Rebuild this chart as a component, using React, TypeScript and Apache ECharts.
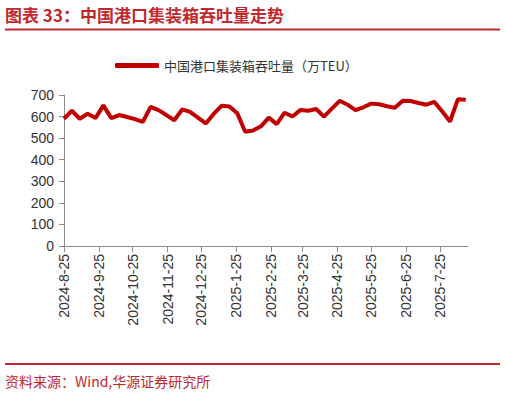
import React, { useEffect, useRef } from "react";
import * as echarts from "echarts";

const TITLE = "图表 33：中国港口集装箱吞吐量走势";
const SOURCE = "资料来源：Wind,华源证券研究所";
const SERIES_NAME = "中国港口集装箱吞吐量（万TEU）";

const weekDates = [
  "2024-8-25", "2024-9-1", "2024-9-8", "2024-9-15", "2024-9-22", "2024-9-29",
  "2024-10-6", "2024-10-13", "2024-10-20", "2024-10-27", "2024-11-3", "2024-11-10",
  "2024-11-17", "2024-11-24", "2024-12-1", "2024-12-8", "2024-12-15", "2024-12-22",
  "2024-12-29", "2025-1-5", "2025-1-12", "2025-1-19", "2025-1-26", "2025-2-2",
  "2025-2-9", "2025-2-16", "2025-2-23", "2025-3-2", "2025-3-9", "2025-3-16",
  "2025-3-23", "2025-3-30", "2025-4-6", "2025-4-13", "2025-4-20", "2025-4-27",
  "2025-5-4", "2025-5-11", "2025-5-18", "2025-5-25", "2025-6-1", "2025-6-8",
  "2025-6-15", "2025-6-22", "2025-6-29", "2025-7-6", "2025-7-13", "2025-7-20",
  "2025-7-27", "2025-8-3", "2025-8-10", "2025-8-17",
];

const throughput = [
  590, 627, 590, 613, 593, 652, 593, 607, 598, 588, 575, 645,
  630, 607, 583, 633, 622, 595, 568, 612, 650, 647, 615, 530,
  535, 555, 595, 565, 618, 600, 630, 627, 635, 600, 637, 673,
  655, 630, 643, 660, 657, 648, 641, 673, 672, 663, 655, 668,
  625, 577, 680, 678,
];

const tickLabels = [
  "2024-8-25", "2024-9-25", "2024-10-25", "2024-11-25", "2024-12-25", "2025-1-25",
  "2025-2-25", "2025-3-25", "2025-4-25", "2025-5-25", "2025-6-25", "2025-7-25",
];

const axisStart = "2024-8-25";
const axisEnd = "2025-8-19";

function buildDays(start: string, end: string): string[] {
  const parse = (s: string) => {
    const [y, m, d] = s.split("-").map(Number);
    return Date.UTC(y, m - 1, d);
  };
  const out: string[] = [];
  const e = parse(end);
  for (let t = parse(start); t <= e; t += 86400000) {
    const dt = new Date(t);
    out.push(`${dt.getUTCFullYear()}-${dt.getUTCMonth() + 1}-${dt.getUTCDate()}`);
  }
  return out;
}

const RED = "#c00000";
const TITLE_RED = "#c0282d";
const FONT = "'Liberation Sans', Arial, 'Noto Sans CJK SC', sans-serif";
const CJK = "'Noto Sans CJK SC', 'Liberation Sans', sans-serif";

export default function App() {
  const ref = useRef<HTMLDivElement>(null);
  useEffect(() => {
    document.body.style.margin = "0";
    if (!ref.current) return;
    const chart = echarts.init(ref.current, undefined, { renderer: "svg" });
    const days = buildDays(axisStart, axisEnd);
    const tickSet = new Set(tickLabels);
    const isTick = (_i: number, v: string) => tickSet.has(v);
    chart.setOption({
      animation: false,
      backgroundColor: "#ffffff",
      grid: { left: 64, right: 38, top: 95, bottom: 151, outerBoundsMode: "none" },
      legend: {
        data: [SERIES_NAME],
        left: 110,
        top: 54,
        icon: "roundRect",
        itemWidth: 44,
        itemHeight: 5,
        itemGap: 8,
        textStyle: { fontSize: 13, color: "#333", fontFamily: CJK },
      },
      xAxis: {
        type: "category",
        data: days,
        boundaryGap: false,
        axisLine: { lineStyle: { color: "#8c8c8c", width: 1 } },
        axisTick: { interval: isTick, length: 6, lineStyle: { color: "#8c8c8c" } },
        axisLabel: {
          interval: isTick,
          rotate: 90,
          margin: 8,
          fontSize: 14,
          color: "#333",
          fontFamily: FONT,
        },
        splitLine: { show: false },
      },
      yAxis: {
        type: "value",
        min: 0,
        max: 700,
        interval: 100,
        axisLine: { show: true, lineStyle: { color: "#8c8c8c", width: 1 } },
        axisTick: { show: true, length: 5, lineStyle: { color: "#8c8c8c" } },
        axisLabel: { fontSize: 14, color: "#333", margin: 10, fontFamily: FONT },
        splitLine: { show: false },
      },
      series: [
        {
          name: SERIES_NAME,
          type: "line",
          data: weekDates.map((d, i) => [d, throughput[i]]),
          symbol: "none",
          lineStyle: { color: RED, width: 4 },
          itemStyle: { color: RED },
        },
      ],
      graphic: [
        {
          type: "text",
          left: 5,
          top: 6,
          style: {
            text: TITLE,
            fontSize: 17,
            fontWeight: "bold",
            fill: TITLE_RED,
            fontFamily: CJK,
          },
        },
        {
          type: "rect",
          shape: { x: 5, y: 28.5, width: 495, height: 2 },
          style: { fill: TITLE_RED },
        },
        {
          type: "rect",
          shape: { x: 5, y: 363, width: 495, height: 2 },
          style: { fill: TITLE_RED },
        },
        {
          type: "text",
          left: 5,
          top: 374,
          style: {
            text: SOURCE,
            fontSize: 14,
            fill: TITLE_RED,
            fontFamily: CJK,
          },
        },
      ],
    });
    return () => chart.dispose();
  }, []);
  return (
    <div
      ref={ref}
      style={{ position: "fixed", left: 0, top: 0, width: 506, height: 397 }}
    />
  );
}
